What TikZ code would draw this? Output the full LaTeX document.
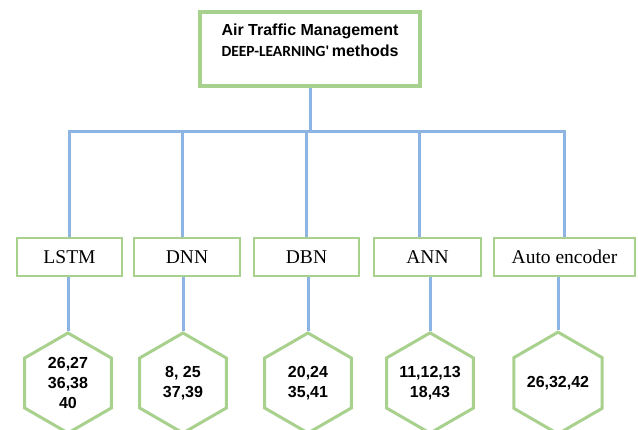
\documentclass[tikz,border=0pt]{standalone}
\usepackage{fontspec}
\setmainfont{Liberation Serif}
\setsansfont{Liberation Sans}
\newfontfamily\narrowfont{Carlito}
\usetikzlibrary{positioning,shapes.geometric}
\definecolor{boxgreen}{HTML}{A9D18E}
\definecolor{linkblue}{HTML}{8DB4E2}
\tikzset{
  titlebox/.style={draw=boxgreen, line width=3.5pt, minimum width=220pt, minimum height=74pt, inner sep=0pt, font=\sffamily\bfseries\fontsize{16}{21}\selectfont},
  catbox/.style={draw=boxgreen, line width=2pt, fill=white, minimum height=38pt, inner sep=0pt, font=\fontsize{19.5}{22}\selectfont},
  refhex/.style={draw=boxgreen, line width=3pt, regular polygon, regular polygon sides=6, shape border rotate=30, minimum size=100pt, inner sep=0pt, align=center, font=\sffamily\bfseries\fontsize{16}{20}\selectfont},
  link/.style={draw=linkblue, line width=3pt, line join=miter}
}

\begin{document}
\begin{tikzpicture}[x=1pt, y=-1pt]
  \clip (0,0) rectangle (638,430);
  \fill[white] (0,0) rectangle (638,430);
  % title
  \node[titlebox] (title) at (310,49) {\raisebox{7pt}[\height][\depth]{\begin{tabular}{@{}c@{}}
      Air Traffic Management\\
      {\narrowfont\fontsize{15.5}{21}\selectfont DEEP-LEARNING\textquotesingle}\,methods
    \end{tabular}}};
  % methods
  \node[catbox, minimum width=105pt] (lstm) at (69.5,257) {LSTM};
  \node[catbox, minimum width=106pt] (dnn) at (187,257) {DNN};
  \node[catbox, minimum width=105pt] (dbn) at (306.5,257) {DBN};
  \node[catbox, minimum width=107pt] (ann) at (427.5,257) {ANN};
  \node[catbox, minimum width=141pt] (autoenc) at (564.5,257) {Auto encoder};
  % references
  \node[refhex] (lstmrefs) at (68,383) {26,27\\36,38\\40};
  \node[refhex] (dnnrefs) at (183,383) {8, 25\\37,39};
  \node[refhex] (dbnrefs) at (308,383) {20,24\\35,41};
  \node[refhex] (annrefs) at (430,383) {11,12,13\\18,43};
  \node[refhex] (autorefs) at (558,383) {26,32,42};
  % connectors
  \coordinate (bus) at (0,132);
  \draw[link] (title.south) -- (title.south |- bus);
  \draw[link] (lstm.north) -- (lstm.north |- bus) -- (autoenc.north |- bus) -- (autoenc.north);
  \draw[link] ([xshift=-5pt]dnn.north |- bus) -- ([xshift=-5pt]dnn.north);
  \draw[link] (dbn.north |- bus) -- (dbn.north);
  \draw[link] ([xshift=-8pt]ann.north |- bus) -- ([xshift=-8pt]ann.north);
  \draw[link] (lstmrefs.north |- lstm.south) -- (lstmrefs.north);
  \draw[link] (dnnrefs.north |- dnn.south) -- (dnnrefs.north);
  \draw[link] (dbnrefs.north |- dbn.south) -- (dbnrefs.north);
  \draw[link] (annrefs.north |- ann.south) -- (annrefs.north);
  \draw[link] (autorefs.north |- autoenc.south) -- (autorefs.north);
\end{tikzpicture}
\end{document}
